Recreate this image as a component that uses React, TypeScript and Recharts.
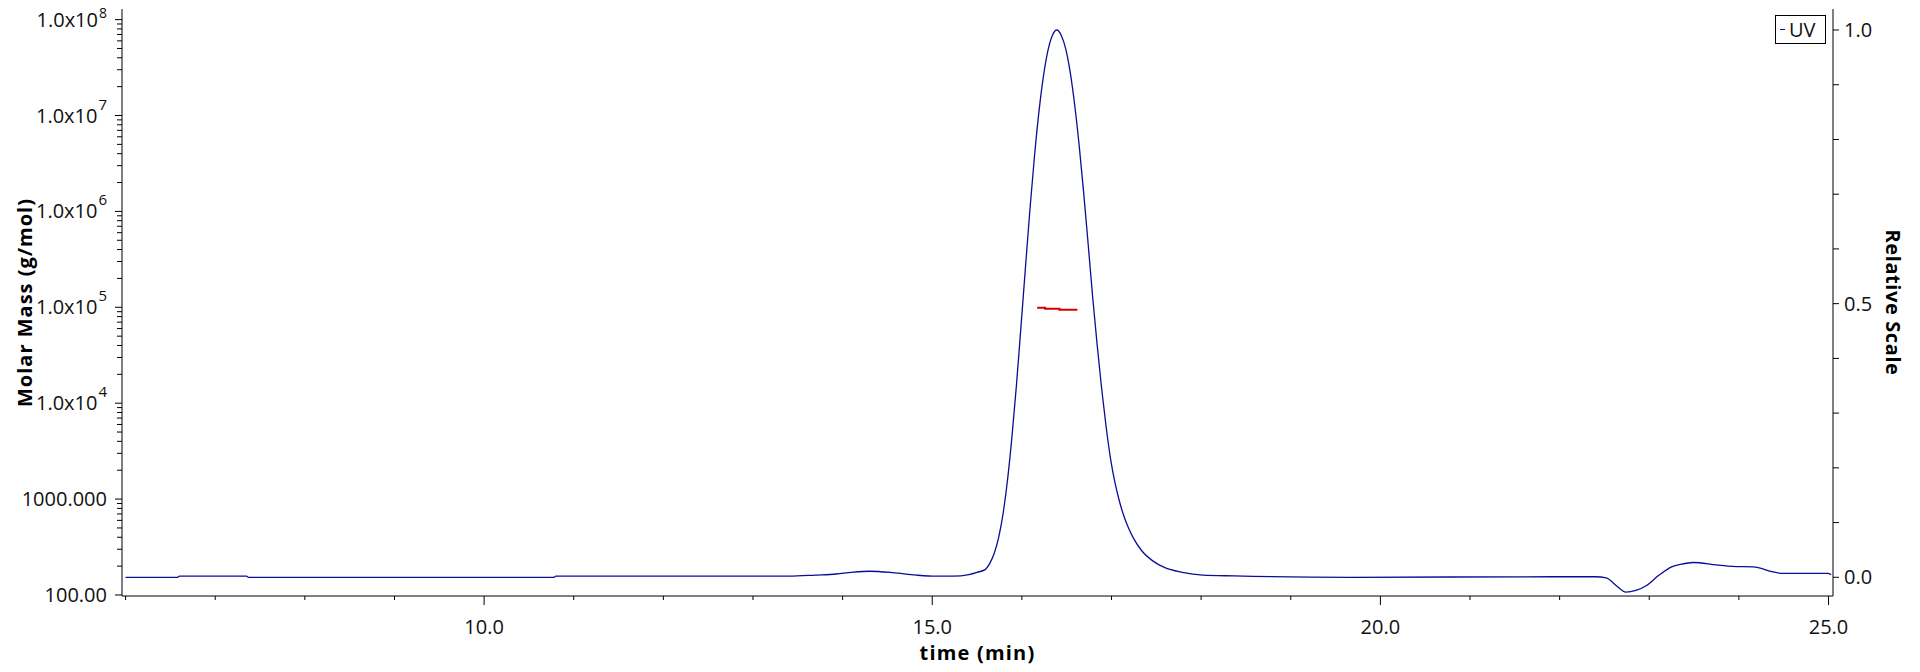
import React from 'react';
import { ComposedChart, Line, XAxis, YAxis, Legend, Label } from 'recharts';

// UV trace (relative scale) — time in minutes
const uvTime = [
  6.0, 6.58, 6.6, 7.35, 7.37, 10.78, 10.8, 13.4, 13.7, 13.93, 14.1, 14.3, 14.56, 14.82, 15.04,
  15.23, 15.41, 15.5, 15.59, 15.64, 15.69, 15.74, 15.79, 15.84, 15.89, 15.94, 15.99, 16.04,
  16.09, 16.14, 16.19, 16.24, 16.29, 16.34, 16.39, 16.44, 16.49, 16.54, 16.59, 16.64, 16.69,
  16.74, 16.79, 16.84, 16.89, 16.94, 16.99, 17.04, 17.09, 17.14, 17.19, 17.24, 17.34, 17.46,
  17.59, 17.79, 18.02, 18.37, 19.67, 21.92, 22.4, 22.52, 22.63, 22.74, 22.85, 22.97, 23.11,
  23.25, 23.36, 23.49, 23.75, 23.93, 24.16, 24.38, 24.49, 24.99, 25.03,
];
const uvValue = [
  0.0, 0.0, 0.002, 0.002, 0.0, 0.0, 0.002, 0.002, 0.004, 0.006, 0.009, 0.011, 0.0085, 0.004, 0.002,
  0.002, 0.005, 0.009, 0.014, 0.025, 0.043, 0.072, 0.116, 0.178, 0.258, 0.352, 0.458, 0.566,
  0.672, 0.768, 0.85, 0.915, 0.962, 0.99, 1.0, 0.99, 0.965, 0.922, 0.862, 0.788, 0.702,
  0.608, 0.512, 0.425, 0.345, 0.275, 0.216, 0.172, 0.138, 0.111, 0.09, 0.073, 0.048, 0.03,
  0.018, 0.009, 0.004, 0.0025, 0.0, 0.001, 0.001, -0.001, -0.015, -0.027, -0.024, -0.015, 0.004,
  0.019, 0.024, 0.027, 0.0226, 0.02, 0.019, 0.01, 0.007, 0.007, 0.005,
];

// Molar mass (g/mol)
const massTime = [16.17, 16.26, 16.42, 16.62];
const massValue = [99000, 96600, 94400, 94400];

// Axis ticks
const xTicks = [6, 7, 8, 9, 10, 11, 12, 13, 14, 15, 16, 17, 18, 19, 20, 21, 22, 23, 24, 25];
const xLabelTicks = [10, 15, 20, 25];
const xLabels = ['10.0', '15.0', '20.0', '25.0'];

const leftMajorTicks = [100, 1000, 10000, 100000, 1000000, 10000000, 100000000];
const leftMantissa = ['100.00', '1000.000', '1.0x10', '1.0x10', '1.0x10', '1.0x10', '1.0x10'];
const leftExponent = ['', '', '4', '5', '6', '7', '8'];
const leftMinorFactors = [2, 3, 4, 5, 6, 7, 8, 9];

const rightTicks = [0, 0.1, 0.2, 0.3, 0.4, 0.5, 0.6, 0.7, 0.8, 0.9, 1.0];
const rightLabelTicks = [0, 0.5, 1.0];
const rightLabels = ['0.0', '0.5', '1.0'];

const uvData = uvTime.map((t, i) => ({ time: t, uv: uvValue[i] }));
const massData = massTime.map((t, i) => ({ time: t, mass: massValue[i] }));

const leftTicks: number[] = [];
leftMajorTicks.forEach((m, i) => {
  leftTicks.push(m);
  if (i < leftMajorTicks.length - 1) leftMinorFactors.forEach((f) => leftTicks.push(m * f));
});

const FONT = '"Open Sans", "DejaVu Sans", sans-serif';
const UV_COLOR = '#0c0c96';
const MASS_COLOR = '#d40000';
const AXIS = '#000';

const near = (a: number, b: number) => Math.abs(a - b) < 1e-6 * Math.max(1, Math.abs(b));

const XTick = (props: any) => {
  const { x, y, payload } = props;
  const idx = xLabelTicks.findIndex((v) => near(v, payload.value));
  const major = idx >= 0;
  return (
    <g>
      <line x1={x} x2={x} y1={y} y2={y + (major ? 9 : 4)} stroke={AXIS} strokeWidth={1} />
      {major && (
        <text x={x} y={y + 38} textAnchor="middle" fontFamily={FONT} fontSize={20} fill="#111">
          {xLabels[idx]}
        </text>
      )}
    </g>
  );
};

const LeftTick = (props: any) => {
  const { x, y, payload } = props;
  const idx = leftMajorTicks.findIndex((v) => near(v, payload.value));
  const major = idx >= 0;
  const isTop = idx === leftMajorTicks.length - 1;
  return (
    <g>
      <line x1={x - (major ? 7 : 5)} x2={x} y1={y} y2={y} stroke={AXIS} strokeWidth={1} />
      {major && (
        <text x={x - 15} y={y + 7} textAnchor="end" fontFamily={FONT} fontSize={20} fill="#111">
          {leftMantissa[idx]}
          {leftExponent[idx] && (
            <tspan dx={1} dy={isTop ? -9 : -13} fontSize={isTop ? 14 : 15}>
              {leftExponent[idx]}
            </tspan>
          )}
        </text>
      )}
    </g>
  );
};

const RightTick = (props: any) => {
  const { x, y, payload } = props;
  const idx = rightLabelTicks.findIndex((v) => near(v, payload.value));
  return (
    <g>
      <line x1={x} x2={x + 6} y1={y} y2={y} stroke={AXIS} strokeWidth={1} />
      {idx >= 0 && (
        <text x={x + 11} y={y + 7} textAnchor="start" fontFamily={FONT} fontSize={20} fill="#111">
          {rightLabels[idx]}
        </text>
      )}
    </g>
  );
};

const renderLegend = () => (
  <div
    style={{
      boxSizing: 'border-box',
      width: 51,
      height: 29,
      border: '1px solid #000',
      display: 'flex',
      alignItems: 'center',
      fontFamily: FONT,
      fontSize: 20,
      color: '#111',
      background: '#fff',
    }}
  >
    <span style={{ display: 'inline-block', width: 5, height: 1, background: UV_COLOR, marginLeft: 4, marginRight: 4 }} />
    <span style={{ lineHeight: '20px' }}>UV</span>
  </div>
);

const LeftTitle = (props: any) => {
  const vb = props.viewBox || { x: 0, y: 9, width: 122, height: 587 };
  const cx = vb.x + 24;
  const cy = vb.y + vb.height / 2;
  return (
    <text
      x={cx}
      y={cy}
      transform={`rotate(-90 ${cx} ${cy})`}
      textAnchor="middle"
      dominantBaseline="central"
      fontFamily={FONT}
      fontWeight="bold"
      fontSize={20}
      letterSpacing={1}
      fill="#000"
    >
      Molar Mass (g/mol)
    </text>
  );
};

const RightTitle = (props: any) => {
  const vb = props.viewBox || { x: 1833, y: 9, width: 87, height: 587 };
  const cx = vb.x + 60;
  const cy = vb.y + vb.height / 2;
  return (
    <text
      x={cx}
      y={cy}
      transform={`rotate(90 ${cx} ${cy})`}
      textAnchor="middle"
      dominantBaseline="central"
      fontFamily={FONT}
      fontWeight="bold"
      fontSize={20}
      letterSpacing={0.6}
      fill="#000"
    >
      Relative Scale
    </text>
  );
};

const BottomTitle = (props: any) => {
  const vb = props.viewBox || { x: 122, y: 596, width: 1711, height: 76 };
  const cx = vb.x + vb.width / 2;
  const cy = vb.y + 64;
  return (
    <text x={cx} y={cy} textAnchor="middle" fontFamily={FONT} fontWeight="bold" fontSize={20} letterSpacing={1.2} fill="#000">
      time (min)
    </text>
  );
};

export default function App() {
  return (
    <div style={{ position: 'absolute', left: 0, top: 0, width: 1920, height: 672, background: '#fff' }}>
      <ComposedChart width={1920} height={672} margin={{ top: 9, right: 0, bottom: 0, left: 0 }}>
        <XAxis
          dataKey="time"
          type="number"
          domain={[5.96, 25.05]}
          allowDataOverflow
          ticks={xTicks}
          interval={0}
          tickSize={0}
          tickMargin={0}
          tickLine={false}
          tick={<XTick />}
          height={76}
          axisLine={{ stroke: AXIS, strokeWidth: 1 }}
        >
          <Label content={<BottomTitle />} />
        </XAxis>
        <XAxis
          xAxisId="top"
          orientation="top"
          type="number"
          domain={[5.96, 25.05]}
          allowDataOverflow
          height={0}
          tick={false}
          tickLine={false}
          axisLine={{ stroke: AXIS, strokeWidth: 1 }}
        />
        <YAxis
          yAxisId="left"
          orientation="left"
          type="number"
          scale="log"
          domain={[97.6, 1.29e8]}
          allowDataOverflow
          ticks={leftTicks}
          interval={0}
          width={122}
          tickSize={0}
          tickMargin={0}
          tickLine={false}
          tick={<LeftTick />}
          axisLine={{ stroke: AXIS, strokeWidth: 1 }}
        >
          <Label content={<LeftTitle />} />
        </YAxis>
        <YAxis
          yAxisId="right"
          orientation="right"
          type="number"
          domain={[-0.0342, 1.0384]}
          allowDataOverflow
          ticks={rightTicks}
          interval={0}
          width={87}
          tickSize={0}
          tickMargin={0}
          tickLine={false}
          tick={<RightTick />}
          axisLine={{ stroke: AXIS, strokeWidth: 1 }}
        >
          <Label content={<RightTitle />} />
        </YAxis>
        <Legend
          layout="vertical"
          align="center"
          verticalAlign="middle"
          content={renderLegend}
          wrapperStyle={{ left: 1775, top: 15, width: 51, height: 29 }}
        />
        <Line
          yAxisId="right"
          data={uvData}
          dataKey="uv"
          name="UV"
          type="monotone"
          stroke={UV_COLOR}
          strokeWidth={1.3}
          dot={false}
          activeDot={false}
          isAnimationActive={false}
        />
        <Line
          yAxisId="left"
          data={massData}
          dataKey="mass"
          name="Molar Mass"
          type="stepAfter"
          stroke={MASS_COLOR}
          strokeWidth={2}
          dot={false}
          activeDot={false}
          isAnimationActive={false}
          legendType="none"
        />
      </ComposedChart>
    </div>
  );
}
